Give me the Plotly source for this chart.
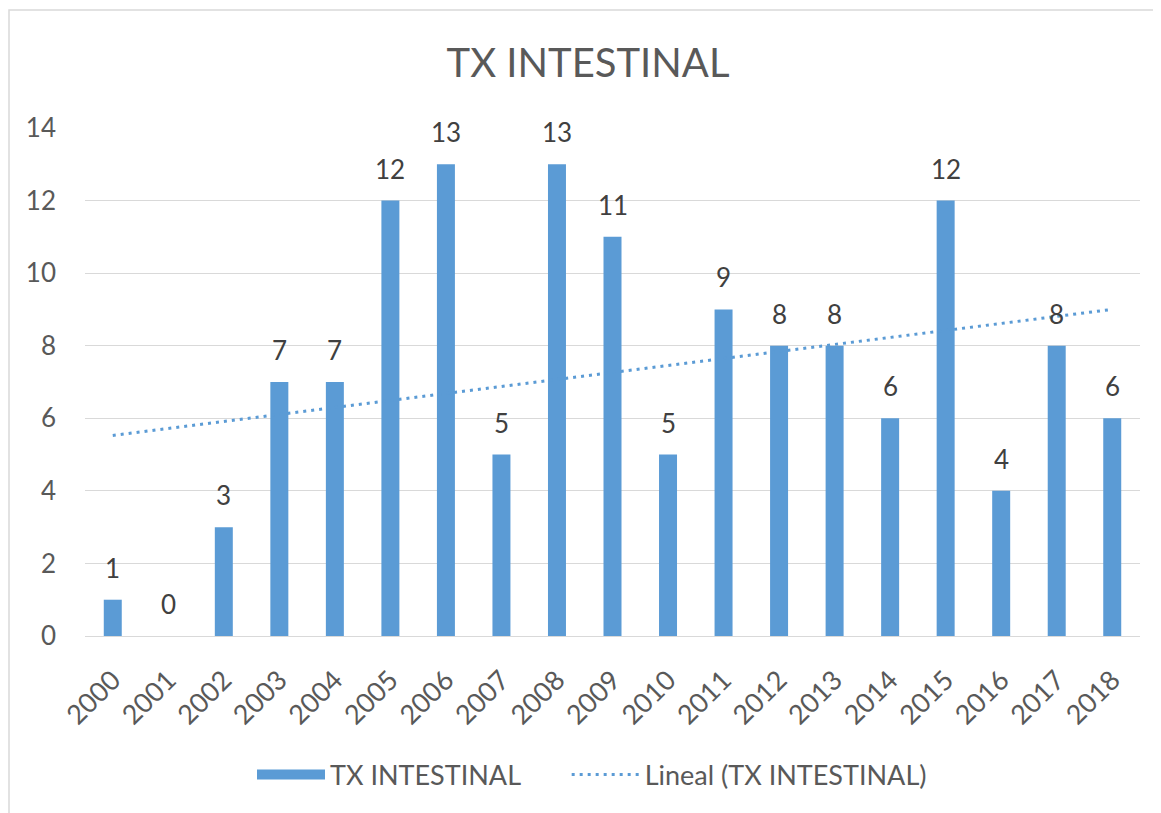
import numpy as np
import plotly.graph_objects as go

years = ["2000", "2001", "2002", "2003", "2004", "2005", "2006", "2007", "2008", "2009",
         "2010", "2011", "2012", "2013", "2014", "2015", "2016", "2017", "2018"]
tx_intestinal = [1, 0, 3, 7, 7, 12, 13, 5, 13, 11, 5, 9, 8, 8, 6, 12, 4, 8, 6]
y_ticks = [0, 2, 4, 6, 8, 10, 12, 14]

# linear trend (least squares, like Excel's "Lineal" trendline)
idx = np.arange(len(years))
slope, intercept = np.polyfit(idx, tx_intestinal, 1)
trend = intercept + slope * idx

blue = "#5B9BD5"
grey_text = "#595959"
grid = "#D9D9D9"
font = "Lato"

# page puts the figure at an 8px offset, so size it to fill the rest
W, H = 1153, 805
ml, mr, mt, mb = 77, 21, 120, 177
pw, ph = W - ml - mr, H - mt - mb

fig = go.Figure()
fig.add_trace(go.Bar(
    x=years,
    y=tx_intestinal,
    name="TX INTESTINAL",
    marker_color=blue,
    marker_line_width=0,
    showlegend=False,
))
# legend stand-in for the bar series (wide flat swatch like Excel)
fig.add_trace(go.Scatter(
    x=[None], y=[None],
    mode="lines",
    name="TX INTESTINAL      ",
    line=dict(color=blue, width=18),
))
fig.add_trace(go.Scatter(
    x=years,
    y=trend,
    mode="lines",
    name="Lineal (TX INTESTINAL)",
    line=dict(color=blue, width=3, dash="3px,5px"),
    hoverinfo="skip",
))

# data labels above bars (category index as x)
for i, v in enumerate(tx_intestinal):
    fig.add_annotation(x=i, y=v, text=str(v), showarrow=False,
                       yanchor="bottom", yshift=14,
                       font=dict(family=font, size=26, color="#404040"))

# chart frame
fig.add_shape(type="rect", xref="paper", yref="paper",
              x0=(1 - ml) / pw, x1=(W + 10 - ml) / pw,
              y0=-(mb + 10) / ph, y1=(H - mb - 2) / ph,
              line=dict(color=grid, width=1.5), layer="below")

fig.update_layout(
    width=W, height=H,
    margin=dict(l=ml, r=mr, t=mt, b=mb),
    paper_bgcolor="white",
    plot_bgcolor="white",
    bargap=0.676,
    font=dict(family=font, color=grey_text, size=26),
    title=dict(text="TX INTESTINAL", x=580 / W, xref="container", xanchor="center",
               y=1 - 55 / H, yref="container", yanchor="middle",
               font=dict(family=font, size=40, color=grey_text)),
    legend=dict(orientation="h", x=(584 - ml) / pw, xanchor="center",
                y=-(767 - (H - mb)) / ph, yanchor="middle",
                font=dict(family=font, size=27, color=grey_text),
                itemwidth=68, tracegroupgap=0),
    showlegend=True,
)
fig.update_xaxes(
    type="category",
    tickangle=-45,
    showgrid=False,
    showline=False,
    ticks="",
    ticklabelstandoff=22,
    tickfont=dict(family=font, size=27, color=grey_text),
)
fig.update_yaxes(
    range=[0, 14],
    tickvals=y_ticks,
    showgrid=True,
    gridcolor=grid,
    gridwidth=1.3,
    zeroline=True,
    zerolinecolor=grid,
    zerolinewidth=1.3,
    showline=False,
    ticks="",
    ticklabelstandoff=28,
    tickfont=dict(family=font, size=26, color=grey_text),
)

fig.write_html("out.html")
